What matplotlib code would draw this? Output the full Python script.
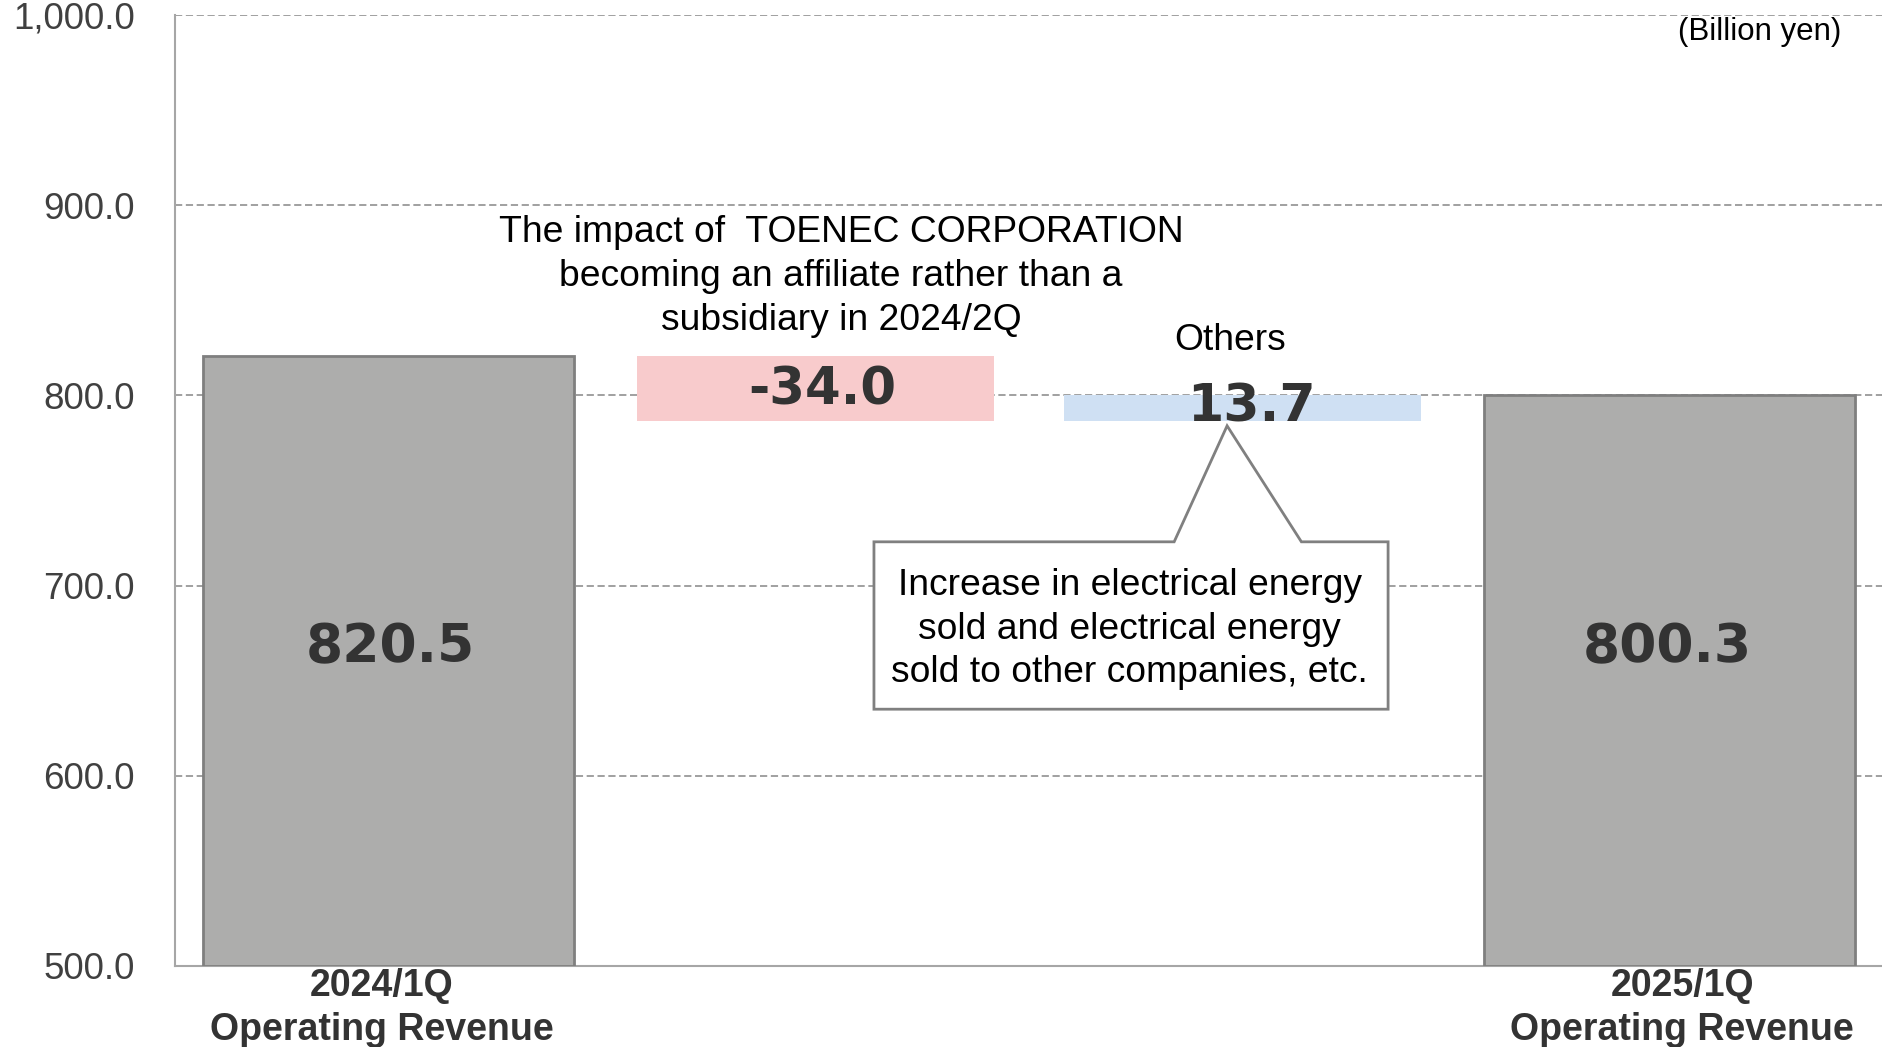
import numpy as np
import matplotlib.pyplot as plt
from matplotlib.patches import Polygon

plt.rcParams['font.family'] = ['Liberation Sans', 'DejaVu Sans']

# data (billion yen)
cats = ['2024/1Q\nOperating Revenue', '', '', '2025/1Q\nOperating Revenue']
start_val = 820.5
deltas = [-34.0, 13.7]
end_val = 800.3
delta_labels = ['-34.0', '13.7']
delta_notes = ['The impact of  TOENEC CORPORATION\nbecoming an affiliate rather than a\nsubsidiary in 2024/2Q', 'Others']
callout_text = 'Increase in electrical energy\nsold and electrical energy\nsold to other companies, etc.'
yticks = [500, 600, 700, 800, 900, 1000]

gray = '#adadac'
pink = '#f8cbcc'
blue = '#cfe0f3'
numcol = '#333333'
numfont = ['DejaVu Sans']

fig = plt.figure(figsize=(18.83, 10.47), dpi=100)
ax = fig.add_axes([0.0929, 0.0774, 0.9071, 0.9083])
ax.set_xlim(-0.5, 3.5)
ax.set_ylim(500, 1000)
ybot = 500

# totals
ax.bar(0, start_val - ybot, bottom=ybot, width=0.87, color=gray, edgecolor='#7f7f7f', lw=2, zorder=3)
ax.bar(3, end_val - ybot, bottom=ybot, width=0.87, color=gray, edgecolor='#7f7f7f', lw=2, zorder=3)

# deltas (floating)
level = start_val
cols = [pink, blue]
tops = []
for i, d in enumerate(deltas):
    lo = min(level, level + d)
    ax.bar(i + 1, abs(d), bottom=lo, width=0.835, color=cols[i], lw=0, zorder=3)
    tops.append(max(level, level + d))
    level += d

# value labels
ax.text(0.005, 667.5, f'{start_val:.1f}', ha='center', va='center',
        fontsize=38.5, fontweight='bold', color=numcol, family=numfont, zorder=5)
ax.text(2.995, 667.5, f'{end_val:.1f}', ha='center', va='center',
        fontsize=38.5, fontweight='bold', color=numcol, family=numfont, zorder=5)
ax.text(1.015, tops[0] - 18, delta_labels[0], ha='center', va='center',
        fontsize=37, fontweight='bold', color=numcol, family=numfont, zorder=5)
ax.text(2.02, tops[1] - 6.5, delta_labels[1], ha='center', va='center',
        fontsize=37.5, fontweight='bold', color=numcol, family=numfont, zorder=5)

# notes above deltas
ax.text(1.06, 862.5, delta_notes[0], ha='center', va='center', fontsize=26.8,
        color='black', linespacing=1.33, zorder=5)
ax.text(1.97, 829, delta_notes[1], ha='center', va='center', fontsize=26.8,
        color='black', zorder=5)

# callout box
pts = [(1.137, 723), (1.840, 723), (1.964, 784), (2.138, 723), (2.341, 723),
       (2.341, 635), (1.137, 635)]
ax.add_patch(Polygon(pts, closed=True, facecolor='white', edgecolor='#808080', lw=2, zorder=4))
ax.text(1.736, 677, callout_text, ha='center', va='center', fontsize=26.8,
        color='black', linespacing=1.32, zorder=5)

# axes styling
ax.set_yticks(yticks)
ax.set_yticklabels([f'{v:,.1f}' for v in yticks], fontsize=26.5, color='#404040')
ax.tick_params(axis='y', length=0, pad=29)
ax.set_xticks([-0.015, 3.03])
ax.set_xticklabels([cats[0], cats[3]], fontsize=27, fontweight='bold', color=numcol,
                   linespacing=1.28)
ax.tick_params(axis='x', length=0, pad=1.5)
ax.grid(axis='y', color='#999999', linestyle=(0, (4, 2)), lw=1.3, zorder=0)
for s in ['top', 'right']:
    ax.spines[s].set_visible(False)
ax.spines['left'].set_color('#a6a6a6')
ax.spines['left'].set_linewidth(1.5)
ax.spines['bottom'].set_color('#a6a6a6')
ax.spines['bottom'].set_linewidth(1.5)

fig.text(0.978, 0.969, '(Billion yen)', ha='right', va='center', fontsize=22.5, color='black')

fig.savefig('out.png', dpi=100)
